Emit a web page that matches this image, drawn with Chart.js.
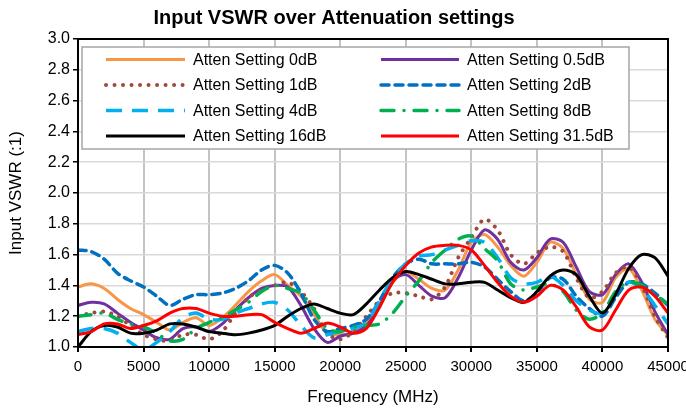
<!DOCTYPE html>
<html>
<head>
<meta charset="utf-8">
<script src="https://cdn.jsdelivr.net/npm/chart.js@4.4.1/dist/chart.umd.min.js"></script>
<style>
  html, body { margin: 0; padding: 0; background: #fff; }
  #caja { width: 686px; height: 409px; }
</style>
</head>
<body>
<div id="caja"><canvas id="graficoVswr"></canvas></div>
<script>
const frecuencias = [0, 1000, 2000, 3000, 4000, 5000, 6000, 7000, 8000, 9000,
    10000, 11000, 12000, 13000, 14000, 15000, 16000, 17000, 18000, 19000,
    20000, 21000, 22000, 23000, 24000, 25000, 26000, 27000, 28000, 29000,
    30000, 31000, 32000, 33000, 34000, 35000, 36000, 37000, 38000, 39000,
    40000, 41000, 42000, 43000, 44000, 45000];

const att0 = [1.39, 1.41, 1.38, 1.31, 1.25, 1.21, 1.16, 1.11, 1.16, 1.19, 1.14, 1.19, 1.27, 1.36, 1.43, 1.47, 1.40, 1.33, 1.21, 1.09, 1.08, 1.09, 1.16, 1.28, 1.42, 1.49, 1.44, 1.38, 1.37, 1.50, 1.68, 1.73, 1.65, 1.53, 1.46, 1.55, 1.68, 1.64, 1.47, 1.31, 1.29, 1.45, 1.51, 1.37, 1.18, 1.08];
const att05 = [1.27, 1.29, 1.28, 1.22, 1.16, 1.11, 1.06, 1.05, 1.12, 1.13, 1.10, 1.15, 1.24, 1.32, 1.38, 1.40, 1.39, 1.27, 1.12, 1.03, 1.07, 1.09, 1.14, 1.26, 1.43, 1.47, 1.40, 1.33, 1.32, 1.45, 1.63, 1.76, 1.70, 1.55, 1.50, 1.58, 1.70, 1.68, 1.52, 1.36, 1.34, 1.47, 1.54, 1.42, 1.23, 1.08];
const att1 = [1.20, 1.22, 1.23, 1.20, 1.14, 1.08, 1.05, 1.04, 1.08, 1.08, 1.05, 1.10, 1.22, 1.32, 1.37, 1.40, 1.42, 1.36, 1.25, 1.09, 1.05, 1.10, 1.20, 1.30, 1.35, 1.35, 1.33, 1.31, 1.39, 1.58, 1.71, 1.83, 1.76, 1.60, 1.54, 1.61, 1.65, 1.62, 1.45, 1.32, 1.36, 1.48, 1.52, 1.40, 1.20, 1.06];
const att2 = [1.63, 1.62, 1.57, 1.48, 1.43, 1.39, 1.33, 1.27, 1.31, 1.34, 1.34, 1.35, 1.38, 1.43, 1.50, 1.53, 1.48, 1.35, 1.18, 1.10, 1.12, 1.14, 1.18, 1.30, 1.45, 1.54, 1.57, 1.54, 1.54, 1.54, 1.55, 1.52, 1.44, 1.36, 1.30, 1.35, 1.45, 1.44, 1.33, 1.25, 1.20, 1.32, 1.42, 1.41, 1.35, 1.27];
const att4 = [1.10, 1.12, 1.12, 1.09, 1.03, 0.98, 1.03, 1.10, 1.19, 1.22, 1.18, 1.18, 1.22, 1.25, 1.28, 1.29, 1.24, 1.14, 1.06, 1.08, 1.10, 1.12, 1.16, 1.30, 1.45, 1.54, 1.59, 1.60, 1.63, 1.66, 1.69, 1.68, 1.58, 1.45, 1.41, 1.42, 1.46, 1.40, 1.30, 1.24, 1.22, 1.35, 1.42, 1.38, 1.27, 1.15];
const att8 = [1.20, 1.21, 1.22, 1.18, 1.15, 1.13, 1.09, 1.04, 1.05, 1.12, 1.16, 1.19, 1.24, 1.29, 1.36, 1.40, 1.38, 1.35, 1.24, 1.12, 1.10, 1.13, 1.14, 1.15, 1.22, 1.33, 1.43, 1.55, 1.63, 1.70, 1.72, 1.64, 1.56, 1.41, 1.37, 1.39, 1.41, 1.36, 1.24, 1.18, 1.22, 1.36, 1.42, 1.40, 1.34, 1.28];
const att16 = [1.00, 1.10, 1.14, 1.13, 1.09, 1.09, 1.11, 1.15, 1.15, 1.13, 1.10, 1.09, 1.08, 1.09, 1.11, 1.14, 1.20, 1.25, 1.28, 1.25, 1.22, 1.21, 1.28, 1.37, 1.45, 1.49, 1.47, 1.44, 1.41, 1.41, 1.42, 1.42, 1.37, 1.32, 1.29, 1.36, 1.46, 1.50, 1.47, 1.33, 1.22, 1.34, 1.51, 1.60, 1.58, 1.46];
const att315 = [1.08, 1.10, 1.15, 1.15, 1.12, 1.14, 1.17, 1.22, 1.25, 1.25, 1.22, 1.20, 1.20, 1.21, 1.21, 1.16, 1.12, 1.09, 1.12, 1.155, 1.13, 1.09, 1.12, 1.26, 1.42, 1.53, 1.61, 1.65, 1.66, 1.66, 1.63, 1.53, 1.42, 1.33, 1.29, 1.33, 1.40, 1.37, 1.26, 1.13, 1.11, 1.24, 1.37, 1.39, 1.33, 1.22];

const nombres = ['Atten Setting 0dB', 'Atten Setting 0.5dB', 'Atten Setting 1dB', 'Atten Setting 2dB',
    'Atten Setting 4dB', 'Atten Setting 8dB', 'Atten Setting 16dB', 'Atten Setting 31.5dB'];
const ticksY = [1.0, 1.2, 1.4, 1.6, 1.8, 2.0, 2.2, 2.4, 2.6, 2.8, 3.0];

const fuente = "'Liberation Sans', Arial, sans-serif";

function puntos(valores) {
    return frecuencias.map((f, i) => ({ x: f, y: valores[i] }));
}

const estilos = [
    { color: '#F79646', dash: [], cap: 'butt', w: 3 },
    { color: '#7030A0', dash: [], cap: 'butt', w: 3 },
    { color: '#A04840', dash: [0.01, 8.5], cap: 'round', w: 4 },
    { color: '#0070C0', dash: [8, 6], cap: 'round', w: 3.5 },
    { color: '#00B0F0', dash: [16, 10], cap: 'butt', w: 3.5 },
    { color: '#00B050', dash: [13, 10, 0.01, 10], cap: 'round', w: 3.5 },
    { color: '#000000', dash: [], cap: 'butt', w: 3 },
    { color: '#FF0000', dash: [], cap: 'butt', w: 3 }
];

const series = [att0, att05, att1, att2, att4, att8, att16, att315];

const datasets = series.map((s, i) => ({
    label: nombres[i],
    data: puntos(s),
    borderColor: estilos[i].color,
    backgroundColor: estilos[i].color,
    borderWidth: estilos[i].w,
    borderDash: estilos[i].dash,
    borderCapStyle: estilos[i].cap,
    borderJoinStyle: 'round',
    pointRadius: 0,
    tension: 0.3,
    fill: false,
    clip: 0,
    order: series.length - i
}));

// leyenda dentro del area, en dos columnas como en Excel
const leyenda = {
    id: 'leyenda',
    afterDraw(chart) {
        const ctx = chart.ctx;
        ctx.save();
        ctx.fillStyle = '#fff';
        ctx.fillRect(82, 47, 547, 102);
        ctx.strokeStyle = '#A6A6A6';
        ctx.lineWidth = 1.5;
        ctx.strokeRect(82, 47, 547, 102);
        chart.data.datasets.forEach((ds, i) => {
            const col = i % 2;
            const fila = Math.floor(i / 2);
            const y = 59.5 + fila * 25.5;
            const x0 = col === 0 ? 106 : 381;
            const x1 = col === 0 ? 185 : 459;
            const xt = col === 0 ? 193 : 467;
            ctx.beginPath();
            ctx.setLineDash(ds.borderDash);
            ctx.lineCap = ds.borderCapStyle;
            ctx.lineWidth = ds.borderWidth;
            ctx.strokeStyle = ds.borderColor;
            ctx.moveTo(x0, y);
            ctx.lineTo(x1, y);
            ctx.stroke();
            ctx.setLineDash([]);
            ctx.fillStyle = '#000';
            ctx.font = '16px ' + fuente;
            ctx.textBaseline = 'middle';
            ctx.fillText(ds.label, xt, y + 1);
        });
        ctx.restore();
    }
};

const marco = {
    id: 'marco',
    afterDatasetsDraw(chart) {
        const a = chart.chartArea;
        const ctx = chart.ctx;
        ctx.save();
        ctx.strokeStyle = '#000';
        ctx.lineWidth = 2;
        ctx.strokeRect(a.left, a.top, a.right - a.left, a.bottom - a.top);
        ctx.restore();
    }
};

const config = {
    type: 'line',
    data: { datasets: datasets },
    options: {
        responsive: true,
        maintainAspectRatio: false,
        animation: false,
        layout: { padding: { left: 0, right: 18, top: 0, bottom: 0 } },
        plugins: {
            legend: { display: false },
            tooltip: { enabled: false },
            title: {
                display: true,
                text: 'Input VSWR over Attenuation settings',
                color: '#000',
                font: { family: fuente, size: 20, weight: 'bold' },
                padding: { top: 6, bottom: 9 }
            }
        },
        scales: {
            x: {
                type: 'linear',
                min: 0,
                max: 45000,
                afterFit(scale) {
                    scale.height = 62;
                    scale.paddingLeft = 0;
                    scale.paddingRight = 0;
                },
                ticks: {
                    stepSize: 5000,
                    color: '#000',
                    padding: 6,
                    maxRotation: 0,
                    font: { family: fuente, size: 15 },
                    callback: v => String(v)
                },
                grid: { color: '#C4C4C4', lineWidth: 2, tickLength: 5, tickColor: '#000' },
                border: { color: '#000', width: 2 },
                title: {
                    display: true,
                    text: 'Frequency (MHz)',
                    color: '#000',
                    font: { family: fuente, size: 17 },
                    padding: { top: 0, bottom: 1 }
                }
            },
            y: {
                min: 1,
                max: 3,
                afterFit(scale) { scale.width = 78; },
                afterBuildTicks(scale) { scale.ticks = ticksY.map(v => ({ value: v })); },
                ticks: {
                    color: '#000',
                    padding: 3,
                    font: { family: fuente, size: 16 },
                    callback: v => Number(v).toFixed(1)
                },
                grid: { color: '#D9D9D9', lineWidth: 1.5, tickLength: 5, tickColor: '#000' },
                border: { color: '#000', width: 2 },
                title: {
                    display: true,
                    text: 'Input VSWR (:1)',
                    color: '#000',
                    font: { family: fuente, size: 17 },
                    padding: { top: 6, bottom: 0 }
                }
            }
        }
    },
    plugins: [marco, leyenda]
};

new Chart(document.getElementById('graficoVswr'), config);
</script>
</body>
</html>
